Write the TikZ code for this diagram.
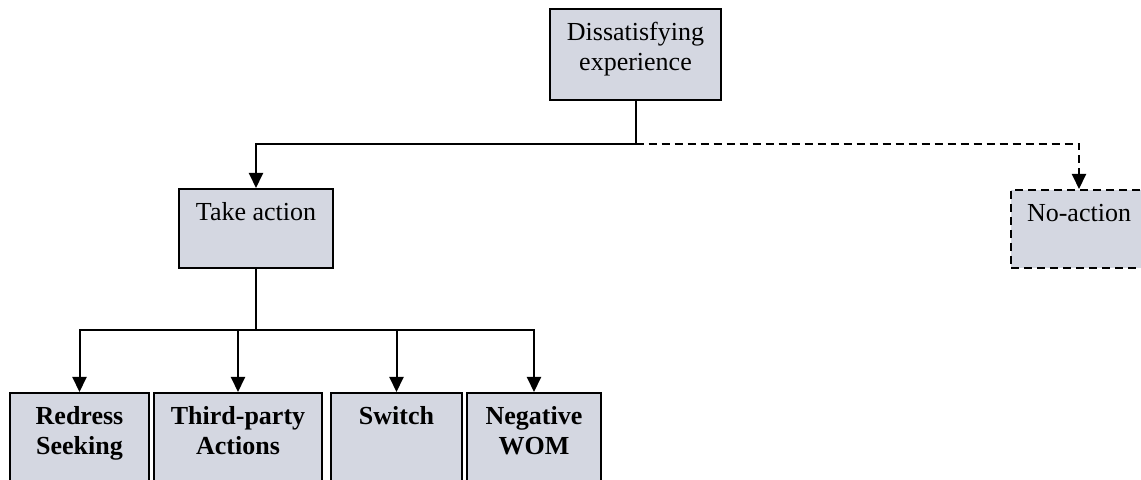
\documentclass[tikz,border=0pt]{standalone}
\usepackage{fontspec}
\setmainfont{Liberation Serif}
\usepackage{tikz}
\usetikzlibrary{positioning, arrows.meta}
\definecolor{boxFill}{HTML}{D4D7E1}

\begin{document}
\begin{tikzpicture}[x=0.5pt, y=-0.5pt,
  box/.style={draw, line width=1pt, fill=boxFill, inner sep=0pt, anchor=north,
              align=center, font=\fontsize{13}{15}\selectfont, text height=16pt},
  twoline/.style={text height=31pt},
  leaf/.style={box, twoline, font=\fontsize{13}{15}\selectfont\bfseries,
               minimum height=50pt, text depth=19pt},
  conn/.style={line width=1pt, -{Triangle[length=7.5pt, width=7pt]}},
]
  \useasboundingbox (0,0) rectangle (1141,480);
  \clip (0,0) rectangle (1141,480);
  \node[box, twoline, minimum width=85.5pt, minimum height=45.5pt, text depth=14.5pt]
    (dis) at (635.5,8) {Dissatisfying\\experience};
  \node[box, minimum width=77pt, minimum height=39.5pt, text depth=23.5pt]
    (take) at (256,188) {Take action};
  \node[box, dash pattern=on 4pt off 2.5pt, minimum width=68pt,
        minimum height=39pt, text depth=23pt] (noact) at (1079,189) {No-action};

  \node[leaf, minimum width=69.5pt] (redress) at (79.5,392) {Redress\\Seeking};
  \node[leaf, minimum width=84pt] (third) at (238,392) {Third-party\\Actions};
  \node[leaf, minimum width=65.5pt, text height=16pt, text depth=34pt]
    (switch) at (396.5,392) {Switch};
  \node[leaf, minimum width=67pt] (negwom) at (534,392) {Negative\\WOM};

  \coordinate (split) at (635.5,144);
  \coordinate (fork) at (256,330);
  \draw[conn] (dis.south) -- (split) -| (take.north);
  \draw[conn, dash pattern=on 4pt off 2.5pt] (split) -| (noact.north);
  \draw[line width=1pt] (take.south) -- (fork);
  \foreach \n in {redress, third, switch, negwom}
    \draw[conn] (fork) -| (\n.north);
\end{tikzpicture}
\end{document}
